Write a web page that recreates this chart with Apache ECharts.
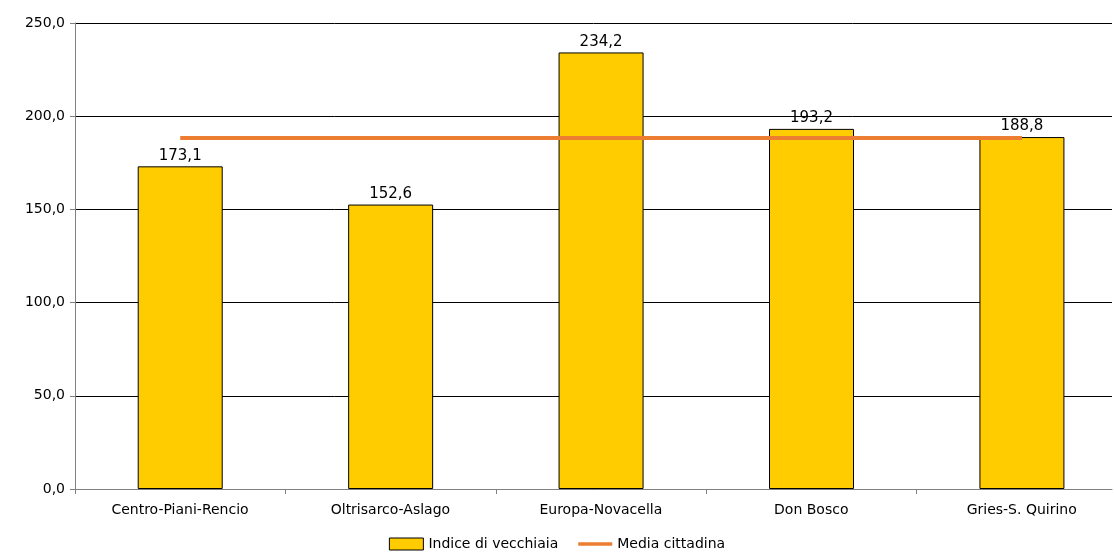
<!DOCTYPE html>
<html>
<head>
<meta charset="utf-8">
<script src="https://cdn.jsdelivr.net/npm/echarts@6/dist/echarts.min.js"></script>
<style>html,body{margin:0;padding:0;background:#fff}#c{width:1114px;height:556px}</style>
</head>
<body>
<div id="c"></div>
<script>
const categories = ['Centro-Piani-Rencio', 'Oltrisarco-Aslago', 'Europa-Novacella', 'Don Bosco', 'Gries-S. Quirino'];
const indice = [173.1, 152.6, 234.2, 193.2, 188.8];
const media = [188.3, 188.3, 188.3, 188.3, 188.3];

const fmt = v => v.toFixed(1).replace('.', ',');
const font = 'DejaVu Sans';

let chart = echarts.init(document.getElementById('c'));
chart.setOption({
    animation: false,
    textStyle: {fontFamily: font},
    grid: {left: 75, right: 2, top: 23, bottom: 67},
    legend: {
        bottom: 0, itemGap: 20, itemWidth: 34, itemHeight: 12,
        textStyle: {fontFamily: font, fontSize: 14, color: '#000'},
        data: [
            {name: 'Indice di vecchiaia', icon: 'rect', itemStyle: {color: '#FFCC00', borderColor: '#000', borderWidth: 1}},
            {name: 'Media cittadina', icon: 'path://M0,0L40,0L40,4L0,4Z', itemStyle: {color: '#ED7D31'}}
        ]
    },
    xAxis: {
        type: 'value', min: -0.5, max: 4.428, interval: 1,
        splitLine: {show: false},
        axisLine: {onZero: false, lineStyle: {color: '#808080'}},
        axisTick: {show: true, length: 5, lineStyle: {color: '#808080'}},
        axisLabel: {
            color: '#000', fontSize: 14, fontFamily: font, margin: 14,
            showMaxLabel: false,
            formatter: v => categories[Math.round(v + 0.5)] || '',
            padding: [0, 0, 0, 210]
        }
    },
    yAxis: {
        type: 'value', min: 0, max: 250, interval: 50,
        axisLine: {show: true, onZero: false, lineStyle: {color: '#808080'}},
        axisTick: {show: true, length: 5, lineStyle: {color: '#808080'}},
        splitLine: {lineStyle: {color: '#000', width: 1}},
        axisLabel: {color: '#000', fontSize: 14, fontFamily: font, formatter: fmt, margin: 10}
    },
    series: [
        {
            name: 'Indice di vecchiaia', type: 'bar', data: indice.map((v, i) => [i, v]), barWidth: 85,
            itemStyle: {color: '#FFCC00', borderColor: '#000', borderWidth: 1},
            label: {show: true, position: 'top', color: '#000', fontSize: 15, fontFamily: font, formatter: p => fmt(p.value[1]), distance: 3}
        },
        {
            name: 'Media cittadina', type: 'line', data: media.map((v, i) => [i, v]), symbol: 'none',
            lineStyle: {color: '#ED7D31', width: 4}, itemStyle: {color: '#ED7D31'}, z: 5
        }
    ]
});
</script>
</body>
</html>
